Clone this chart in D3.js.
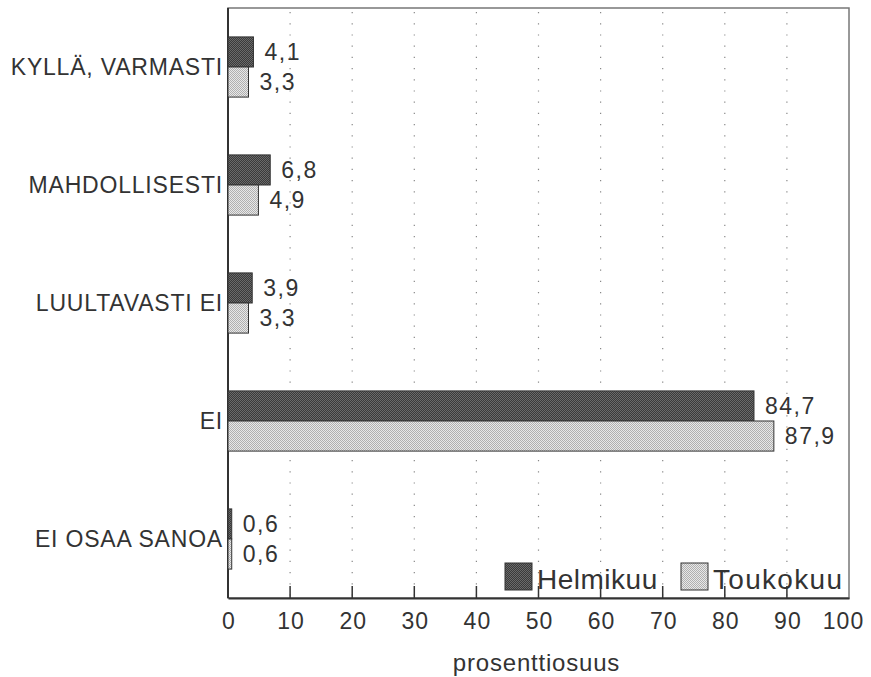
<!DOCTYPE html>
<html><head><meta charset="utf-8">
<script src="https://cdn.jsdelivr.net/npm/d3@7"></script>
<style>body{margin:0;background:#fff}svg{display:block}text{font-family:"Liberation Sans",Arial,sans-serif;fill:#333}</style>
</head><body><div id="chart"></div>
<script>
const categories = ["KYLLÄ, VARMASTI","MAHDOLLISESTI","LUULTAVASTI EI","EI","EI OSAA SANOA"];
const seriesNames = ["Helmikuu","Toukokuu"];
const helmikuu = [4.1, 6.8, 3.9, 84.7, 0.6];
const toukokuu = [3.3, 4.9, 3.3, 87.9, 0.6];
const xTicks = [0,10,20,30,40,50,60,70,80,90,100];
const axisTitle = "prosenttiosuus";

const W = 871, H = 677;
const L = 228, R = 849, T = 8, B = 598;
const svg = d3.select("#chart").append("svg").attr("width", W).attr("height", H);
const defs = svg.append("defs");
function pat(id, base, dot){
  const p = defs.append("pattern").attr("id", id).attr("width", 2).attr("height", 2).attr("patternUnits","userSpaceOnUse");
  p.append("rect").attr("width",2).attr("height",2).attr("fill",base);
  p.append("rect").attr("width",1).attr("height",1).attr("fill",dot);
  p.append("rect").attr("x",1).attr("y",1).attr("width",1).attr("height",1).attr("fill",dot);
}
pat("pDark", "#3a3a3a", "#6a6a6a");
pat("pLight", "#e8e8e8", "#b0b0b0");
const fills = ["url(#pDark)","url(#pLight)"];

const x = d3.scaleLinear().domain([0,100]).range([L,R]);
const y = d3.scaleBand().domain(categories).range([T,B]).paddingInner(0.49).paddingOuter(0.245);
const ys = d3.scaleBand().domain(seriesNames).range([0, y.bandwidth()]);
const fmt = v => d3.format(".1f")(v).replace(".", ",");

// grid
svg.append("g").selectAll("line").data(xTicks.filter(t => t>0 && t<100)).join("line")
  .attr("x1", d=>x(d)).attr("x2", d=>x(d)).attr("y1", T+4).attr("y2", B)
  .attr("stroke","#888").attr("stroke-width",1.2).attr("stroke-dasharray","1.2,10");

// frame
svg.append("rect").attr("x",L).attr("y",T).attr("width",R-L).attr("height",B-T)
  .attr("fill","none").attr("stroke","#777").attr("stroke-width",1.5);

// x axis
const xAxis = d3.axisBottom(x).tickValues(xTicks).tickSize(0).tickPadding(15);
const gx = svg.append("g").attr("transform",`translate(0,${B})`).call(xAxis);
gx.select(".domain").attr("stroke","#333").attr("stroke-width",2);
gx.selectAll("text").attr("font-size",23).attr("letter-spacing",1).attr("fill","#333").attr("font-family","Liberation Sans, Arial, sans-serif")
  .attr("dx", d => d===100 ? -6 : 0.5);
svg.append("g").selectAll("line").data(xTicks.filter(t => t>0 && t<100)).join("line")
  .attr("x1", d=>x(d)).attr("x2", d=>x(d)).attr("y1", B-12).attr("y2", B)
  .attr("stroke","#333").attr("stroke-width",1.5);
// left axis line
svg.append("line").attr("x1",L).attr("x2",L).attr("y1",T).attr("y2",B).attr("stroke","#333").attr("stroke-width",2);

// category labels
const yAxis = d3.axisLeft(y).tickSize(0).tickPadding(5);
const gy = svg.append("g").attr("transform",`translate(${L},0)`).call(yAxis);
gy.select(".domain").remove();
gy.selectAll("text").attr("font-size",23).attr("letter-spacing",0.8).attr("fill","#333").attr("font-family","Liberation Sans, Arial, sans-serif").attr("dy","0.35em");

// bars
const data = [];
categories.forEach((c,i)=>{ data.push({c, s:seriesNames[0], v:helmikuu[i], k:0}); data.push({c, s:seriesNames[1], v:toukokuu[i], k:1}); });
svg.append("g").selectAll("rect").data(data).join("rect")
  .attr("x", x(0)).attr("y", d=>y(d.c)+ys(d.s)).attr("width", d=>x(d.v)-x(0)).attr("height", ys.bandwidth())
  .attr("fill", d=>fills[d.k]).attr("stroke","#333").attr("stroke-width",1);
svg.append("g").selectAll("text").data(data).join("text")
  .attr("x", d=>x(d.v)+11).attr("y", d=>y(d.c)+ys(d.s)+ys.bandwidth()/2).attr("dy","0.36em")
  .attr("font-size",23).attr("letter-spacing",1.5).text(d=>fmt(d.v));

// legend
const leg = svg.append("g");
const legX = [505, 681];
seriesNames.forEach((s,i)=>{
  leg.append("rect").attr("x",legX[i]).attr("y",563).attr("width",27).attr("height",27).attr("fill",fills[i]).attr("stroke","#333").attr("stroke-width",1);
  leg.append("text").attr("x",legX[i]+32).attr("y",589).attr("font-size",28).attr("letter-spacing",i===0?0.5:1.3).text(s);
});

// axis title
svg.append("text").attr("x",(L+R)/2-2).attr("y",671).attr("text-anchor","middle").attr("font-size",24).attr("letter-spacing",0.8).text(axisTitle);
</script></body></html>
